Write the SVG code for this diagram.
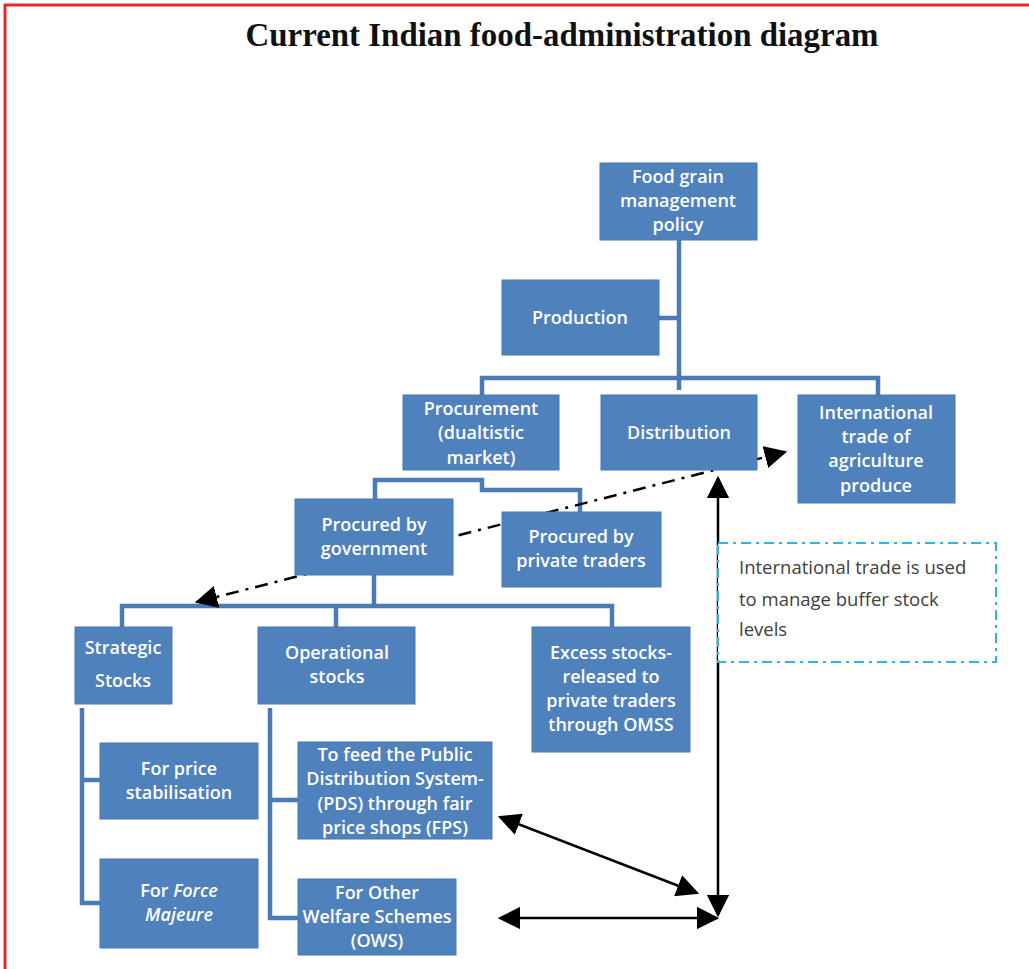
<svg xmlns="http://www.w3.org/2000/svg" width="1029" height="969" viewBox="0 0 1029 969">
<defs>
<style>
.box{fill:#4F81BD;stroke:#4678b4;stroke-width:1}
.t{font-family:"Open Sans","Liberation Sans",sans-serif;font-size:18px;font-weight:600;fill:#ffffff;text-anchor:middle}
.conn{fill:none;stroke:#4A7BB7;stroke-width:4.5}
.arr{fill:none;stroke:#000;stroke-width:2.5}
.note{font-family:"Open Sans","Liberation Sans",sans-serif;font-size:18.5px;fill:#404040}
</style>
<marker id="ah2" viewBox="0 0 10 10" refX="9" refY="5" markerWidth="9" markerHeight="9" orient="auto-start-reverse" markerUnits="strokeWidth">
<path d="M0,0 L10,5 L0,10 z" fill="#000"/>
</marker>
</defs>
<rect width="1029" height="969" fill="#fff"/>
<path d="M5,969 V5 H1029" fill="none" stroke="#e8262b" stroke-width="3"/>
<text x="562" y="46" font-family="Liberation Serif,serif" font-weight="bold" font-size="34" text-anchor="middle" fill="#111" textLength="633" lengthAdjust="spacingAndGlyphs">Current Indian food-administration diagram</text>

<g id="connectors">
<path class="conn" d="M679,240 V390 M659,318 H679 M482,395 V378 H878 V395"/>
<path class="conn" d="M375,499 V480 H482 V490 H580 V512"/>
<path class="conn" d="M374,575 V606 M122,627 V606 H612 V627 M336,606 V627"/>
<path class="conn" d="M82,708 V903 H100 M82,780 H100"/>
<path class="conn" d="M270,708 V918 H298 M270,800 H298"/>
<line class="arr" x1="197" y1="602" x2="785" y2="452" stroke-dasharray="13,7,3,7" marker-start="url(#ah2)" marker-end="url(#ah2)" stroke-width="2.6"/>
<line class="arr" x1="718" y1="915" x2="718" y2="478" marker-start="url(#ah2)" marker-end="url(#ah2)"/>
<line class="arr" x1="500" y1="817" x2="697" y2="893" marker-start="url(#ah2)" marker-end="url(#ah2)"/>
<line class="arr" x1="500" y1="918" x2="717" y2="918" marker-start="url(#ah2)" marker-end="url(#ah2)"/>
</g>

<g id="n-policy"><rect class="box" x="600" y="163" width="157" height="77"/>
<text class="t" x="678" y="183">Food grain</text><text class="t" x="678" y="207">management</text><text class="t" x="678" y="231">policy</text></g>
<g id="n-production"><rect class="box" x="502" y="280" width="157" height="75"/>
<text class="t" x="580" y="324">Production</text></g>
<g id="n-procurement"><rect class="box" x="403" y="395" width="156" height="75"/>
<text class="t" x="481" y="415">Procurement</text><text class="t" x="481" y="439">(dualtistic</text><text class="t" x="481" y="464">market)</text></g>
<g id="n-distribution"><rect class="box" x="601" y="395" width="156" height="75"/>
<text class="t" x="679" y="439">Distribution</text></g>
<g id="n-intl"><rect class="box" x="798" y="395" width="157" height="108"/>
<text class="t" x="876" y="419">International</text><text class="t" x="876" y="443">trade of</text><text class="t" x="876" y="467">agriculture</text><text class="t" x="876" y="492">produce</text></g>
<g id="n-gov"><rect class="box" x="295" y="499" width="158" height="76"/>
<text class="t" x="374" y="531">Procured by</text><text class="t" x="374" y="555">government</text></g>
<g id="n-private"><rect class="box" x="502" y="512" width="159" height="75"/>
<text class="t" x="581" y="543">Procured by</text><text class="t" x="581" y="567">private traders</text></g>
<g id="n-strategic"><rect class="box" x="75" y="627" width="97" height="77"/>
<text class="t" x="123" y="654">Strategic</text><text class="t" x="123" y="687">Stocks</text></g>
<g id="n-operational"><rect class="box" x="258" y="627" width="157" height="77"/>
<text class="t" x="337" y="659">Operational</text><text class="t" x="337" y="683">stocks</text></g>
<g id="n-excess"><rect class="box" x="532" y="627" width="158" height="125"/>
<text class="t" x="611" y="659">Excess stocks-</text><text class="t" x="611" y="683">released to</text><text class="t" x="611" y="707">private traders</text><text class="t" x="611" y="731">through OMSS</text></g>
<g id="n-price"><rect class="box" x="100" y="743" width="158" height="76"/>
<text class="t" x="179" y="775">For price</text><text class="t" x="179" y="799">stabilisation</text></g>
<g id="n-force"><rect class="box" x="100" y="859" width="158" height="89"/>
<text class="t" x="179" y="897">For <tspan font-style="italic">Force</tspan></text><text class="t" x="179" y="921" font-style="italic">Majeure</text></g>
<g id="n-pds"><rect class="box" x="298" y="742" width="194" height="97"/>
<text class="t" x="395" y="761">To feed the Public</text><text class="t" x="395" y="785">Distribution System-</text><text class="t" x="395" y="810">(PDS) through fair</text><text class="t" x="395" y="834">price shops (FPS)</text></g>
<g id="n-ows"><rect class="box" x="298" y="879" width="158" height="76"/>
<text class="t" x="377" y="899">For Other</text><text class="t" x="377" y="923">Welfare Schemes</text><text class="t" x="377" y="947">(OWS)</text></g>
<g id="n-note"><rect x="718" y="543" width="278" height="119" fill="#fff" stroke="#29b6e8" stroke-width="2" stroke-dasharray="10,5,3,5"/>
<text class="note" x="739" y="574">International trade is used</text><text class="note" x="739" y="606">to manage buffer stock</text><text class="note" x="739" y="636">levels</text></g>
</svg>
